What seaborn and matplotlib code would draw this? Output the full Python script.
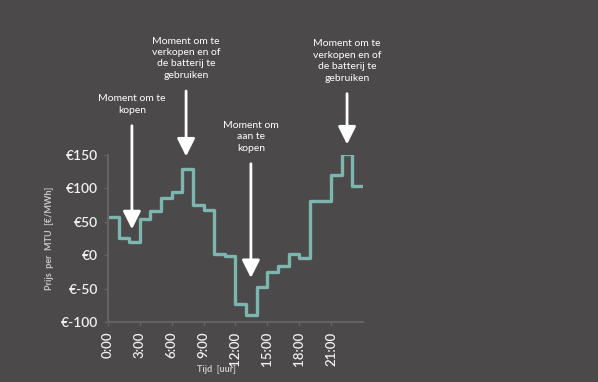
import numpy as np
import matplotlib
matplotlib.use("Agg")
import matplotlib.pyplot as plt
import seaborn as sns

# uurprijzen (EUR/MWh) per uur 0..23
hours = list(range(25))
prices = [57, 26, 20, 54, 66, 86, 95, 129, 75, 68, 2, -1, -73, -90, -48, -25,
          -16, 2, -4, 81, 81, 120, 151, 103]
prices_step = prices + [prices[-1]]

xticks = [0, 3, 6, 9, 12, 15, 18, 21]
xticklabels = ["0:00", "3:00", "6:00", "9:00", "12:00", "15:00", "18:00", "21:00"]
yticks = [-100, -50, 0, 50, 100, 150]
yticklabels = ["€-100", "€-50", "€0", "€50", "€100", "€150"]

# annotaties: tekst, x (uur), pijlpunt, pijlstaart
notes = [
    ("Moment om te\nkopen", 2.25, 39, 194),
    ("Moment om te\nverkopen en of\nde batterij te\ngebruiken", 7.35, 148, 246),
    ("Moment om\naan te\nkopen", 13.45, -34, 137),
    ("Moment om te\nverkopen en of\nde batterij te\ngebruiken", 22.5, 166, 242),
]

bg = "#4b494a"
line_color = "#7db5af"
grid_color = "#646264"

sns.set_theme(style="dark")
plt.rcParams["font.family"] = ["Lato", "DejaVu Sans"]

fig = plt.figure(figsize=(5.98, 3.82), dpi=100, facecolor=bg)
ax = fig.add_axes([0.1806, 0.157, 0.4264, 0.437])
ax.set_facecolor(bg)

sns.lineplot(x=hours, y=prices_step, drawstyle="steps-post", color=line_color,
             linewidth=2.4, ax=ax)

ax.set_xlim(0, 24)
ax.set_ylim(-100, 150)
ax.set_xticks(xticks)
ax.set_xticklabels(xticklabels, rotation=90, color="#f0f0f0", fontsize=9.5,
                   fontweight="semibold")
ax.set_yticks(yticks)
ax.set_yticklabels(yticklabels, color="#f0f0f0", fontsize=10,
                   fontweight="semibold")
ax.tick_params(axis="both", length=3, width=1, color=grid_color, pad=4)
ax.tick_params(axis="x", bottom=True)
ax.tick_params(axis="y", left=True)

for side in ["top", "right"]:
    ax.spines[side].set_visible(False)
for side in ["left", "bottom"]:
    ax.spines[side].set_visible(True)
    ax.spines[side].set_color(grid_color)
    ax.spines[side].set_linewidth(1.5)
ax.grid(False)

ax.set_xlabel("")
ax.set_ylabel("")
fig.text(216 / 598, 1 - 370 / 382, "Tijd  [uur]", color="#c8c8c8", fontsize=6.5,
         fontweight="bold", ha="center", va="center")
fig.text(50 / 598, 1 - 238 / 382, "Prijs  per  MTU  [€/MWh]", color="#c8c8c8",
         fontsize=6.5, fontweight="bold", rotation=90, ha="center", va="center")

for text, xh, tip, tail in notes:
    ax.annotate("", xy=(xh, tip), xytext=(xh, tail), annotation_clip=False,
                arrowprops=dict(arrowstyle="-|>,head_length=0.9,head_width=0.45",
                                color="white", lw=2, shrinkA=0, shrinkB=0))
    ax.annotate(text, xy=(xh, tail), xytext=(0, 8), textcoords="offset points",
                ha="center", va="bottom", color="white", fontsize=7.5,
                linespacing=1.35, annotation_clip=False)

fig.savefig("out.png", dpi=100, facecolor=bg)
